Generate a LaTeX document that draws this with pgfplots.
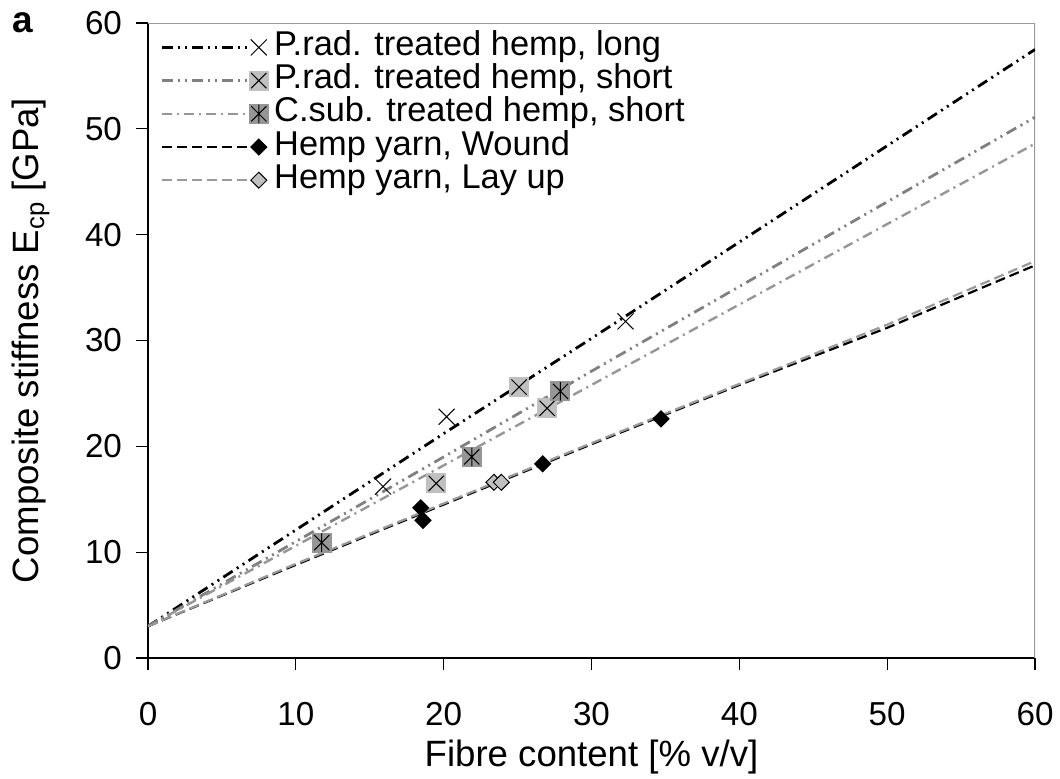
\documentclass[border=0pt]{standalone}
\usepackage{fontspec}
\setmainfont{Liberation Sans}
\usepackage{pgfplots}
\pgfplotsset{compat=1.18}

\definecolor{lgray}{HTML}{C0C0C0}
\definecolor{dgray}{HTML}{969696}
\definecolor{mgray}{HTML}{808080}
\definecolor{bgray}{HTML}{9A9A9A}

\pgfdeclareplotmark{exx}{%
  \pgfpathmoveto{\pgfqpoint{-4pt}{-4pt}}\pgfpathlineto{\pgfqpoint{4pt}{4pt}}%
  \pgfpathmoveto{\pgfqpoint{-4pt}{4pt}}\pgfpathlineto{\pgfqpoint{4pt}{-4pt}}%
  \pgfusepath{stroke}}
\pgfdeclareplotmark{xbox}{%
  \pgfpathrectangle{\pgfqpoint{-5pt}{-5pt}}{\pgfqpoint{10pt}{10pt}}\pgfusepath{fill}%
  \pgfpathmoveto{\pgfqpoint{-3.8pt}{-3.8pt}}\pgfpathlineto{\pgfqpoint{3.8pt}{3.8pt}}%
  \pgfpathmoveto{\pgfqpoint{-3.8pt}{3.8pt}}\pgfpathlineto{\pgfqpoint{3.8pt}{-3.8pt}}%
  \pgfusepath{stroke}}
\pgfdeclareplotmark{sbox}{%
  \pgfpathrectangle{\pgfqpoint{-5pt}{-5pt}}{\pgfqpoint{10pt}{10pt}}\pgfusepath{fill}%
  \pgfpathmoveto{\pgfqpoint{-3.8pt}{-3.8pt}}\pgfpathlineto{\pgfqpoint{3.8pt}{3.8pt}}%
  \pgfpathmoveto{\pgfqpoint{-3.8pt}{3.8pt}}\pgfpathlineto{\pgfqpoint{3.8pt}{-3.8pt}}%
  \pgfpathmoveto{\pgfqpoint{0pt}{-4.6pt}}\pgfpathlineto{\pgfqpoint{0pt}{4.6pt}}%
  \pgfusepath{stroke}}
\pgfdeclareplotmark{dia}{%
  \pgfpathmoveto{\pgfqpoint{0pt}{4pt}}\pgfpathlineto{\pgfqpoint{4pt}{0pt}}%
  \pgfpathlineto{\pgfqpoint{0pt}{-4pt}}\pgfpathlineto{\pgfqpoint{-4pt}{0pt}}%
  \pgfpathclose\pgfusepath{fill,stroke}}

\tikzset{
  L1/.style={black, line width=1.4pt, dash pattern=on 5.5pt off 2.5pt on 1pt off 2.5pt on 1pt off 2.5pt},
  L2/.style={mgray, line width=1.4pt, dash pattern=on 5.5pt off 2.5pt on 1pt off 2.5pt on 1pt off 2.5pt},
  L3/.style={dgray, line width=1.2pt, dash pattern=on 5pt off 2.5pt on 1pt off 2.5pt},
  L4/.style={black, line width=1.1pt, dash pattern=on 5pt off 2.5pt},
  L5/.style={bgray, line width=1.1pt, dash pattern=on 5pt off 2.5pt},
  M1/.style={draw=black, solid, line width=0.5pt, mark=exx},
  M2/.style={draw=black, fill=lgray, solid, line width=0.5pt, mark=xbox},
  M3/.style={draw=black, fill=dgray, solid, line width=0.5pt, mark=sbox},
  M4/.style={draw=black, fill=black, solid, line width=0.5pt, mark=dia},
  M5/.style={draw=black, fill=lgray, solid, line width=0.5pt, mark=dia},
}
\newcommand{\legimg}[1]{\draw (0pt,0pt) -- (43.5pt,0pt);
  \draw[#1] plot[only marks] coordinates {(48.5pt,0pt)};
  \path (55.5pt,0pt);}

\begin{document}
\begin{tikzpicture}
\begin{axis}[
  at={(0,0)}, anchor=south west,
  scale only axis, width=443.5pt, height=317.5pt,
  xmin=0, xmax=60, ymin=0, ymax=60,
  xtick={0,10,...,60}, ytick={0,10,...,60},
  axis x line*=bottom, axis y line*=left,
  axis line style={black, line width=0.6pt},
  tick align=outside, major tick length=6pt,
  tick style={black, line width=0.6pt},
  tick label style={font=\fontsize{16.6}{19}\selectfont},
  xticklabel style={yshift=-12.5pt},
  yticklabel style={xshift=-3.5pt},
  label style={font=\fontsize{18.3}{22}\selectfont},
  /pgf/number format/assume math mode=true,
  xlabel={Fibre content [\% v/v]},
  ylabel={Composite stiffness E\textsubscript{cp} [GPa]},
  xlabel style={at={([yshift=-54pt]axis description cs:0.5,0)}, anchor=base},
  ylabel style={at={([xshift=-54.5pt]axis description cs:0,0.5)}, anchor=base},
  legend cell align=left,
  legend style={draw=none, fill=none, at={([xshift=6pt,yshift=-5pt]axis description cs:0,1)},
    anchor=north west, inner sep=0pt, row sep=2.6pt,
    font=\fontsize{17.2}{20}\selectfont,
    nodes={inner sep=0pt, text height=11pt, text depth=3pt}},
]
\draw[bgray, line width=0.6pt] (rel axis cs:0,1) -- (rel axis cs:1,1) -- (rel axis cs:1,0);

\addplot[L1, mark=none, legend image code/.code={\legimg{M1}}] coordinates {
 (0,3.0) (10,12.1) (20,21.2) (30,30.2) (40,39.3) (50,48.4) (60,57.5)};
\addlegendentry{P.rad. treated hemp, long}
\addplot[L2, mark=none, legend image code/.code={\legimg{M2}}] coordinates {
 (0,3.0) (10,11.0) (20,19.0) (30,27.1) (40,35.1) (50,43.1) (60,51.1)};
\addlegendentry{P.rad. treated hemp, short}
\addplot[L3, mark=none, legend image code/.code={\legimg{M3}}] coordinates {
 (0,3.0) (10,10.6) (20,18.2) (30,25.8) (40,33.4) (50,41.0) (60,48.6)};
\addlegendentry{C.sub. treated hemp, short}
\addplot[L4, mark=none, legend image code/.code={\legimg{M4}}] coordinates {
 (0,3.0) (10,8.8) (20,14.5) (30,20.2) (40,25.8) (50,31.2) (60,37.1)};
\addlegendentry{Hemp yarn, Wound}
\addplot[L5, mark=none, legend image code/.code={\legimg{M5}}] coordinates {
 (0,3.0) (10,8.9) (20,14.6) (30,20.3) (40,25.9) (50,31.5) (60,37.5)};
\addlegendentry{Hemp yarn, Lay up}

\addplot[only marks, mark=exx, mark options={M1}, forget plot] coordinates {
 (15.9,16.2) (20.2,22.8) (32.3,31.8)};
\addplot[only marks, mark=xbox, mark options={M2}, forget plot] coordinates {
 (19.5,16.5) (25.1,25.6) (27.0,23.6)};
\addplot[only marks, mark=sbox, mark options={M3}, forget plot] coordinates {
 (11.75,10.9) (21.9,19.0) (27.9,25.2)};
\addplot[only marks, mark=dia, mark options={M4}, forget plot] coordinates {
 (18.45,14.2) (18.6,13.0) (26.7,18.35) (34.7,22.6)};
\addplot[only marks, mark=dia, mark options={M5}, forget plot] coordinates {
 (23.4,16.6) (23.9,16.6)};
\end{axis}
\node[anchor=base west, inner sep=0pt, font=\fontsize{18.5}{22}\selectfont\bfseries] at (-68pt,312.5pt) {a};
\pgfresetboundingbox
\path[use as bounding box] (-74pt,-60pt) rectangle (456pt,329pt);
\end{tikzpicture}
\end{document}
